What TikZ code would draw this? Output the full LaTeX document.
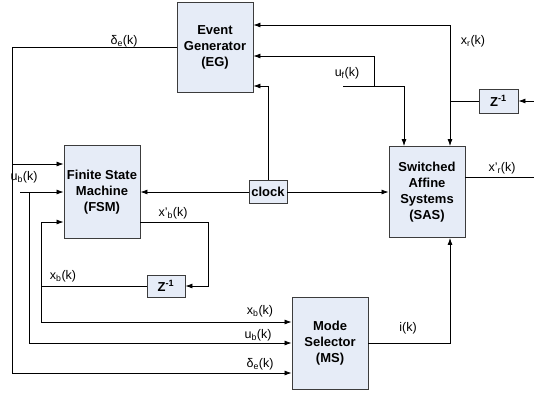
\documentclass[tikz,border=0pt]{standalone}
\usepackage{fontspec}
\setmainfont{Liberation Sans}
\usetikzlibrary{arrows.meta}

\definecolor{boxfill}{RGB}{230,236,247}
\definecolor{boxline}{RGB}{60,60,60}

\tikzset{
  block/.style={draw=boxline, fill=boxfill, line width=0.9pt, minimum width=76pt,
    minimum height=91pt, align=center, inner sep=0pt,
    font=\fontsize{13}{16}\selectfont\bfseries},
  smallblock/.style={block, minimum width=38pt, minimum height=23pt},
  arr/.style={-{Latex[length=7pt,width=5pt]}},
  sig/.style={font=\fontsize{12.5}{14}\selectfont, inner sep=0pt},
}

\begin{document}
\begin{tikzpicture}[x=1pt, y=-1pt, line width=0.8pt]
    \useasboundingbox (0,0) rectangle (534,394);

    % Draw blocks
    \node[block, minimum height=90pt] (EG) at (215,47) {Event\\Generator\\(EG)};
    \node[block, minimum height=93pt] (FSM) at (102,192) {Finite State\\Machine\\(FSM)};
    \node[block] (SAS) at (427,192) {Switched\\Affine\\Systems\\(SAS)};
    \node[block, minimum height=92pt] (MS) at (330,343) {Mode\\Selector\\(MS)};
    \node[smallblock] (clock) at (268,192) {clock};
    \node[smallblock, minimum width=39pt, minimum height=24pt] (Z1) at (498.5,101) {Z\textsuperscript{-1}};
    \node[smallblock, minimum height=22pt] (Z2) at (166,286) {Z\textsuperscript{-1}};

    % Open ends and branch points
    \coordinate (deL) at (12,373);
    \coordinate (deB) at (12,164);
    \coordinate (ubIn) at (20,192);
    \coordinate (ubJ) at (29,192);
    \coordinate (xbJ) at (41,222);
    \coordinate (xbM) at (41,322);
    \coordinate (xbR) at (208,222);
    \coordinate (xrJ) at (450,101);
    \coordinate (xrTop) at (450,25);
    \coordinate (xrIn) at (534,101);
    \coordinate (ufIn) at (343,86);
    \coordinate (ufJ) at (374,86);
    \coordinate (ufTop) at (374,56);
    \coordinate (xrOut) at (534,177);

    % Event signal
    \draw[arr] (EG.west) -| (deL) -- (deL -| MS.west);
    \draw[arr] (deB) -- (deB -| FSM.west);

    % Binary input
    \draw[arr] (ubIn) -- (FSM.west);
    \draw[arr] (ubJ) |- (MS.west);

    % Binary state loop
    \draw[arr] (xbR -| FSM.east) -- (xbR) |- (Z2.east);
    \draw[arr] (Z2.west) -| (xbJ) -- (xbJ -| FSM.west);
    \draw[arr] (xbJ) -- (xbM) -- (xbM -| MS.west);

    % Clock
    \draw[arr] (clock.west) -- (FSM.east);
    \draw[arr] (clock.east) -- (SAS.west);
    \draw[arr] (clock.north) |- (ufIn -| EG.east);

    % Continuous state
    \draw[arr] (xrIn) -- (Z1.east);
    \draw (Z1.west) -- (xrJ);
    \draw[arr] (xrJ) -- (xrTop) -- (xrTop -| EG.east);
    \draw[arr] (xrJ) -- (xrJ |- SAS.north);
    \draw (xrOut -| SAS.east) -- (xrOut);

    % Continuous input
    \draw[arr] (ufIn) -| ([xshift=-23pt]SAS.north);
    \draw[arr] (ufJ) -- (ufTop) -- (ufTop -| EG.east);

    % Mode
    \draw[arr] (MS.east) -| (xrJ |- SAS.south);

    % Labels
    \node[sig] (lde1) at (124,41) {δ\textsubscript{e}(k)};
    \node[sig] (lub1) at (24,177) {u\textsubscript{b}(k)};
    \node[sig] (lxb1) at (173,213) {x'\textsubscript{b}(k)};
    \node[sig] (lxb2) at (63,276) {x\textsubscript{b}(k)};
    \node[sig] (lxb3) at (260,311) {x\textsubscript{b}(k)};
    \node[sig] (lub2) at (258,335) {u\textsubscript{b}(k)};
    \node[sig] (lde2) at (260,364) {δ\textsubscript{e}(k)};
    \node[sig] (li) at (408,328) {i(k)};
    \node[sig] (lxr1) at (473,41) {x\textsubscript{r}(k)};
    \node[sig] (luf) at (347,73) {u\textsubscript{f}(k)};
    \node[sig] (lxr2) at (502,168) {x'\textsubscript{r}(k)};
\end{tikzpicture}
\end{document}
